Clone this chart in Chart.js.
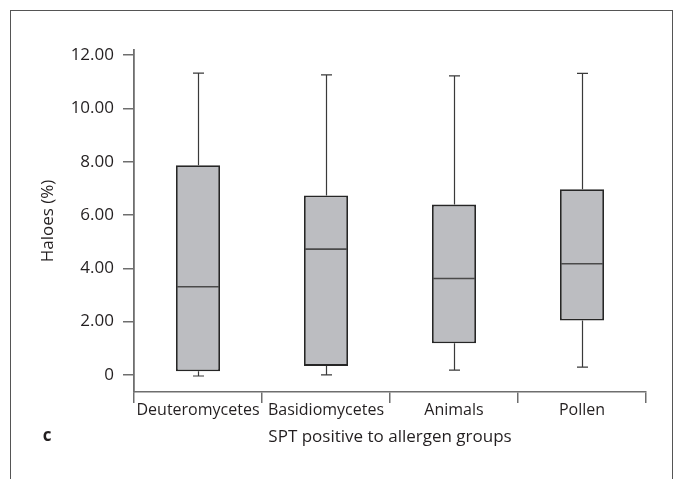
<!DOCTYPE html>
<html>
<head>
<meta charset="utf-8">
<script src="https://cdn.jsdelivr.net/npm/chart.js@4.4.1/dist/chart.umd.min.js"></script>
<style>
  html, body { margin: 0; padding: 0; background: #fff; overflow: hidden; }
  #wrap { position: relative; width: 674px; height: 479px; }
  #frame {
    position: absolute; left: 10px; top: 10px; width: 661px; height: 500px;
    border: 1.5px solid #555; border-bottom: none;
  }
  #chart { position: absolute; left: 0; top: 0; }
</style>
</head>
<body>
<div id="wrap">
  <div id="frame"></div>
  <canvas id="chart" width="674" height="479"></canvas>
</div>
<script>
const groups = ['Deuteromycetes', 'Basidiomycetes', 'Animals', 'Pollen'];
const whiskerLow = [-0.04, 0.00, 0.18, 0.29];
const q1 = [0.14, 0.34, 1.19, 2.04];
const median = [3.31, 4.72, 3.62, 4.17];
const q3 = [7.87, 6.73, 6.39, 6.97];
const whiskerHigh = [11.32, 11.26, 11.22, 11.31];
const yTicks = [0, 2, 4, 6, 8, 10, 12];

const axisColor = '#6e6e6e';
const textColor = '#231f20';
const fontFamily = '"Open Sans", "Noto Sans", sans-serif';

// whiskers, caps and median lines on top of the boxes
const boxExtras = {
  id: 'boxExtras',
  afterDatasetsDraw(chart) {
    const ctx = chart.ctx;
    const y = chart.scales.y;
    const meta = chart.getDatasetMeta(0);
    ctx.save();
    meta.data.forEach((bar, i) => {
      const x = Math.round(bar.x) + 0.5;
      const half = bar.width / 2;
      const cap = 5.5;
      const yLow = y.getPixelForValue(whiskerLow[i]);
      const yQ1 = y.getPixelForValue(q1[i]);
      const yQ3 = y.getPixelForValue(q3[i]);
      const yHigh = y.getPixelForValue(whiskerHigh[i]);
      const yMed = y.getPixelForValue(median[i]);

      ctx.strokeStyle = '#3a3a3a';
      ctx.lineWidth = 1.2;
      ctx.beginPath();
      ctx.moveTo(x, yQ3); ctx.lineTo(x, yHigh);
      ctx.moveTo(x - cap, yHigh); ctx.lineTo(x + cap, yHigh);
      ctx.moveTo(x, yQ1); ctx.lineTo(x, yLow);
      ctx.moveTo(x - cap, yLow); ctx.lineTo(x + cap, yLow);
      ctx.stroke();

      ctx.strokeStyle = '#4a4a4a';
      ctx.lineWidth = 1.6;
      ctx.beginPath();
      ctx.moveTo(bar.x - half + 1, yMed); ctx.lineTo(bar.x + half - 1, yMed);
      ctx.stroke();
    });
    ctx.restore();
  },
  afterDraw(chart) {
    const ctx = chart.ctx;
    ctx.save();
    ctx.fillStyle = textColor;
    ctx.font = 'bold 17px ' + fontFamily;
    ctx.textAlign = 'center';
    ctx.textBaseline = 'middle';
    ctx.fillText('c', 47, 436);
    ctx.restore();
  }
};

new Chart(document.getElementById('chart'), {
  type: 'bar',
  data: {
    labels: groups,
    datasets: [{
      data: groups.map((g, i) => [q1[i], q3[i]]),
      backgroundColor: '#bcbdc1',
      borderColor: '#262626',
      borderWidth: 1.8,
      borderSkipped: false,
      categoryPercentage: 1,
      barPercentage: 0.344
    }]
  },
  options: {
    responsive: false,
    animation: false,
    layout: { padding: { left: 30, top: 50, right: 28, bottom: 0 } },
    plugins: { legend: { display: false }, tooltip: { enabled: false } },
    scales: {
      x: {
        grid: {
          offset: true,
          drawOnChartArea: false,
          drawTicks: true,
          tickLength: 11,
          color: axisColor,
          lineWidth: 1.5
        },
        border: { display: true, color: axisColor, width: 1.5 },
        ticks: {
          color: textColor,
          font: { family: fontFamily, size: 16 },
          padding: -2,
          maxRotation: 0,
          autoSkip: false
        },
        title: {
          display: true,
          text: 'SPT positive to allergen groups',
          color: textColor,
          font: { family: fontFamily, size: 17 },
          padding: { top: 0, bottom: 32 }
        },
        afterFit(scale) { scale.height = 87; }
      },
      y: {
        min: -0.64,
        max: 12.19,
        afterBuildTicks(scale) { scale.ticks = yTicks.map(v => ({ value: v })); },
        grid: {
          drawOnChartArea: false,
          drawTicks: true,
          tickLength: 11,
          color: axisColor,
          lineWidth: 1.5
        },
        border: { display: true, color: axisColor, width: 1.8 },
        ticks: {
          color: textColor,
          font: { family: fontFamily, size: 17 },
          padding: 9,
          callback: v => v === 0 ? '0' : v.toFixed(2)
        },
        title: {
          display: true,
          text: 'Haloes (%)',
          color: textColor,
          font: { family: fontFamily, size: 17 },
          padding: { top: 8, bottom: 0 }
        },
        afterFit(scale) { scale.width = 104; }
      }
    }
  },
  plugins: [boxExtras]
});
</script>
</body>
</html>
